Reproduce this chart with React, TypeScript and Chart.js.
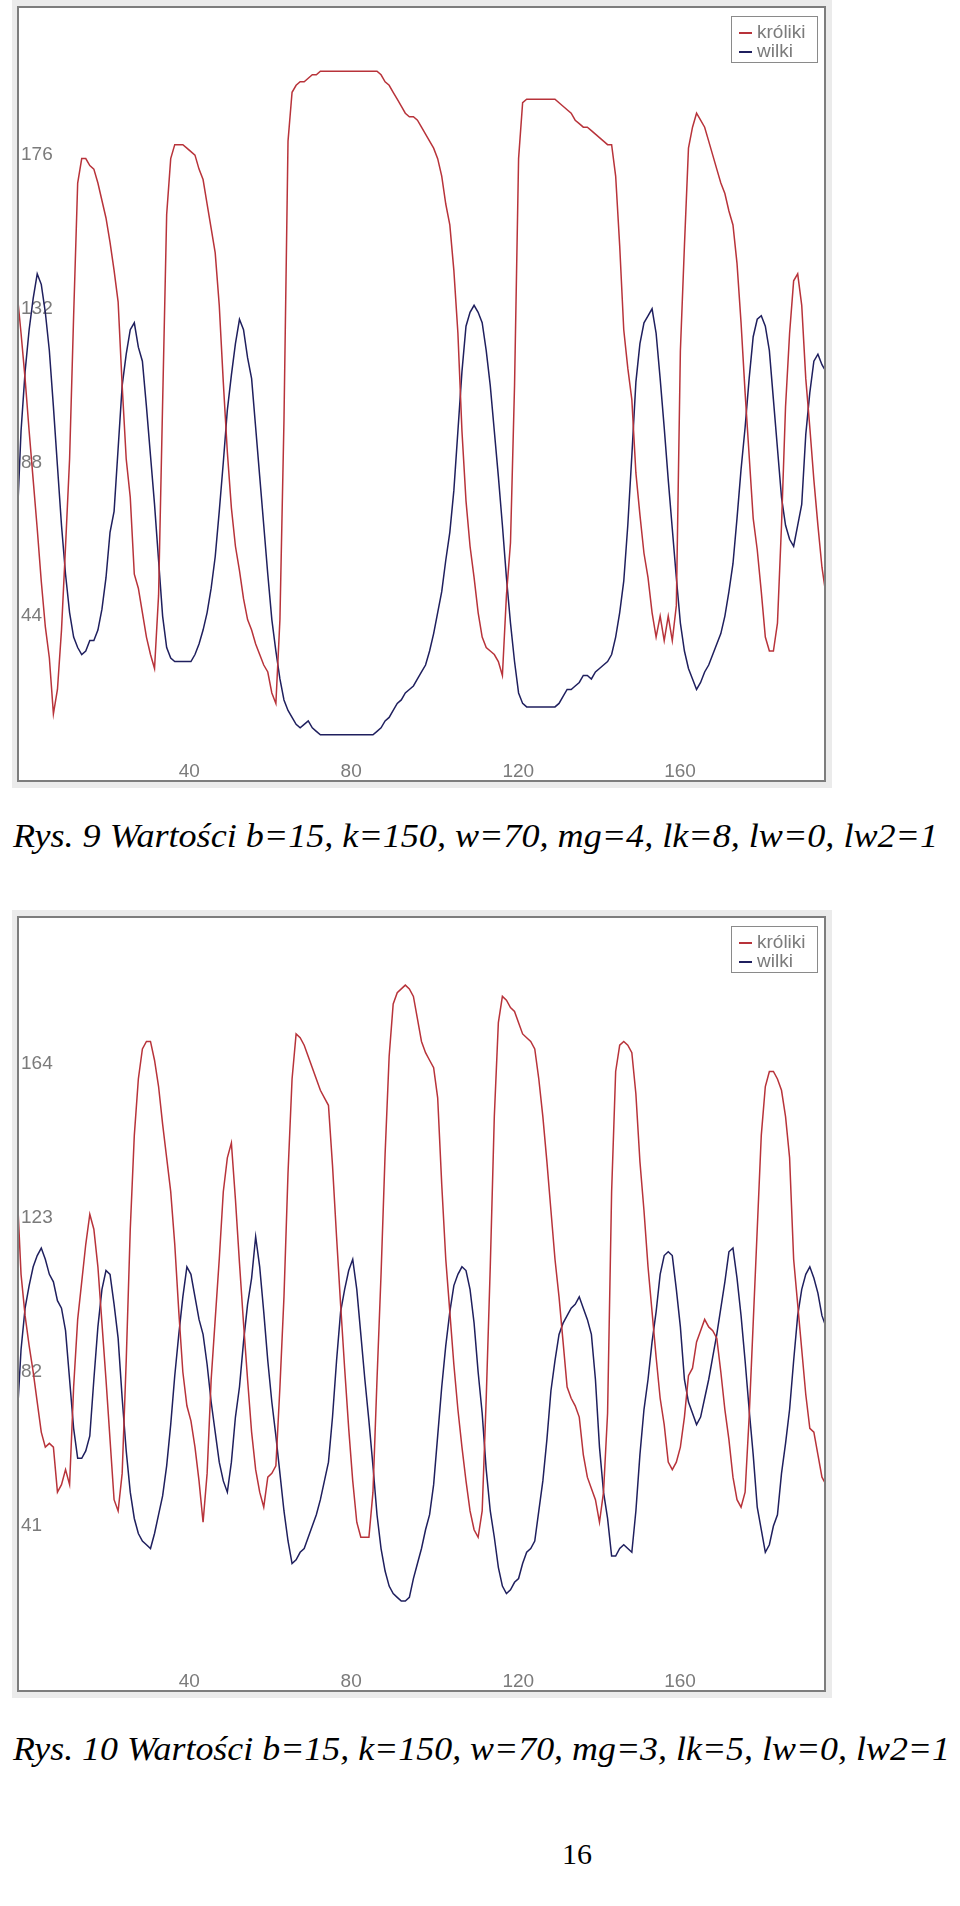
import React, { useEffect, useRef } from "react";
import { Chart, registerables } from "chart.js";

Chart.register(...registerables);

// ---------- data ----------
const STEPS: number[] = Array.from({ length: 201 }, (_, i) => i);
const X_TICKS = [40, 80, 120, 160];

const SERIES_NAMES = ["króliki", "wilki"];

// Rys. 9
const Y_TICKS_9 = [44, 88, 132, 176];
const RABBITS_9 = [
  137, 125, 112, 97, 83, 69, 54, 41, 32, 16, 23, 40, 64, 89, 130, 168, 175, 175, 173, 172,
  168, 163, 158, 151, 143, 134, 110, 89, 78, 56, 52, 45, 38, 33, 29, 50, 105, 159, 175, 179,
  179, 179, 178, 177, 176, 172, 169, 162, 155, 148, 133, 111, 91, 75, 64, 57, 49, 43, 40, 36,
  33, 30, 28, 22, 19, 43, 100, 180, 194, 196, 197, 197, 198, 199, 199, 200, 200, 200, 200, 200,
  200, 200, 200, 200, 200, 200, 200, 200, 200, 200, 199, 197, 196, 194, 192, 190, 188, 187, 187, 186,
  184, 182, 180, 178, 175, 170, 162, 156, 143, 125, 97, 77, 64, 55, 45, 38, 35, 34, 33, 31,
  27, 50, 65, 110, 175, 191, 192, 192, 192, 192, 192, 192, 192, 192, 191, 190, 189, 188, 186, 185,
  184, 184, 183, 182, 181, 180, 179, 179, 170, 150, 126, 115, 106, 85, 73, 62, 55, 45, 38, 44,
  37, 44, 37, 47, 120, 150, 178, 184, 188, 186, 184, 180, 176, 172, 168, 165, 160, 156, 145, 128,
  108, 90, 72, 63, 51, 38, 34, 34, 42, 70, 104, 125, 140, 142, 133, 112, 98, 83, 70, 58,
  50,
];
const WOLVES_9 = [
  70, 97, 114, 126, 135, 142, 139, 131, 120, 104, 87, 70, 56, 45, 38, 35, 33, 34, 37, 37,
  40, 46, 55, 68, 74, 92, 110, 119, 126, 128, 121, 117, 104, 90, 76, 60, 44, 35, 32, 31,
  31, 31, 31, 31, 33, 36, 40, 45, 52, 61, 74, 88, 103, 113, 122, 129, 126, 118, 112, 98,
  84, 70, 56, 43, 34, 26, 20, 17, 15, 13, 12, 13, 14, 12, 11, 10, 10, 10, 10, 10,
  10, 10, 10, 10, 10, 10, 10, 10, 10, 11, 12, 14, 15, 17, 19, 20, 22, 23, 24, 26,
  28, 30, 34, 39, 45, 51, 60, 68, 80, 97, 114, 127, 131, 133, 131, 128, 120, 110, 97, 84,
  70, 55, 42, 31, 22, 19, 18, 18, 18, 18, 18, 18, 18, 18, 19, 21, 23, 23, 24, 25,
  27, 27, 26, 28, 29, 30, 31, 33, 38, 45, 54, 70, 90, 111, 122, 128, 130, 132, 125, 112,
  98, 83, 69, 55, 42, 34, 29, 26, 23, 25, 28, 30, 33, 36, 39, 44, 51, 59, 72, 86,
  98, 112, 124, 129, 130, 127, 120, 106, 92, 78, 70, 66, 64, 70, 76, 96, 108, 117, 119, 116,
  114,
];

// Rys. 10
const Y_TICKS_10 = [41, 82, 123, 164];
const RABBITS_10 = [
  131, 108, 97, 89, 82, 74, 66, 62, 63, 62, 50, 52, 56, 52, 78, 96, 106, 116, 124, 120,
  110, 95, 80, 64, 48, 45, 55, 85, 120, 145, 160, 168, 170, 170, 165, 158, 148, 139, 130, 116,
  98, 82, 73, 69, 62, 53, 42, 55, 80, 96, 112, 130, 139, 143, 128, 111, 95, 80, 66, 56,
  50, 46, 54, 55, 57, 78, 102, 135, 160, 172, 171, 169, 166, 163, 160, 157, 155, 153, 137, 118,
  100, 83, 67, 53, 42, 38, 38, 38, 50, 80, 108, 140, 166, 180, 183, 184, 185, 184, 182, 176,
  170, 167, 165, 163, 155, 132, 112, 98, 84, 72, 62, 53, 45, 40, 38, 45, 75, 110, 150, 175,
  182, 181, 179, 178, 175, 172, 171, 170, 168, 160, 150, 138, 125, 112, 102, 90, 78, 75, 73, 70,
  60, 54, 51, 48, 42, 50, 71, 130, 162, 169, 170, 169, 167, 156, 138, 125, 110, 98, 86, 75,
  68, 58, 56, 58, 62, 70, 81, 83, 90, 93, 96, 94, 93, 91, 82, 72, 64, 54, 48, 46,
  50, 70, 95, 120, 145, 158, 162, 162, 160, 157, 150, 139, 112, 100, 88, 76, 67, 66, 60, 54,
  52,
];
const WOLVES_10 = [
  69, 88, 99, 105, 110, 113, 115, 112, 108, 106, 101, 99, 93, 80, 67, 59, 59, 61, 65, 80,
  94, 104, 109, 108, 100, 91, 75, 61, 50, 43, 39, 37, 36, 35, 39, 44, 49, 57, 68, 81,
  92, 102, 110, 108, 102, 96, 92, 84, 74, 66, 58, 53, 50, 58, 70, 78, 90, 100, 107, 118,
  110, 98, 85, 74, 65, 55, 45, 37, 31, 32, 34, 35, 38, 41, 44, 48, 53, 58, 70, 85,
  98, 104, 109, 112, 104, 92, 80, 69, 57, 44, 35, 29, 25, 23, 22, 21, 21, 22, 27, 31,
  35, 40, 44, 52, 65, 78, 89, 98, 105, 108, 110, 109, 104, 95, 82, 71, 56, 45, 38, 30,
  25, 23, 24, 26, 27, 31, 34, 35, 37, 45, 53, 64, 77, 85, 92, 95, 97, 99, 100, 102,
  99, 96, 92, 80, 62, 50, 43, 33, 33, 35, 36, 35, 34, 45, 60, 72, 80, 90, 98, 108,
  113, 114, 113, 104, 94, 80, 74, 71, 68, 70, 75, 80, 86, 92, 99, 106, 114, 115, 107, 97,
  85, 72, 60, 46, 40, 34, 36, 41, 44, 55, 63, 72, 85, 97, 104, 108, 110, 107, 103, 97,
  94,
];

const RABBIT_COLOR = "#b8333a";
const WOLF_COLOR = "#1f1f5e";

// ---------- overlay plugin (frame, inner tick labels, legend) ----------
const overlayPlugin = {
  id: "javaOverlay",
  beforeDatasetsDraw(chart: any, _args: any, opts: any) {
    const { ctx, chartArea: a, scales } = chart;
    ctx.save();
    ctx.font = '19px "Liberation Sans", Arial, sans-serif';
    ctx.fillStyle = "#7b7b7b";
    ctx.textBaseline = "middle";
    ctx.textAlign = "left";
    (opts.yTicks || []).forEach((v: number) => {
      ctx.fillText(String(v), a.left + 4, scales.y.getPixelForValue(v));
    });
    (opts.xTicks || []).forEach((v: number) => {
      ctx.fillText(String(v), scales.x.getPixelForValue(v), a.bottom - 10);
    });
    ctx.restore();
  },
  afterDatasetsDraw(chart: any) {
    const { ctx, chartArea: a } = chart;
    ctx.save();
    // frame
    ctx.strokeStyle = "#7d7d7d";
    ctx.lineWidth = 2;
    ctx.strokeRect(a.left + 1, a.top + 1, a.width - 2, a.height - 2);
    // legend box
    const bw = 87;
    const bh = 47;
    const bx = a.right - 8 - bw;
    const by = a.top + 10;
    ctx.fillStyle = "#ffffff";
    ctx.fillRect(bx, by, bw, bh);
    ctx.strokeStyle = "#8a8a8a";
    ctx.lineWidth = 1;
    ctx.strokeRect(bx + 0.5, by + 0.5, bw - 1, bh - 1);
    ctx.font = '19px "Liberation Sans", Arial, sans-serif';
    ctx.textBaseline = "middle";
    ctx.textAlign = "left";
    chart.data.datasets.forEach((ds: any, i: number) => {
      const cy = by + 17 + i * 19;
      ctx.strokeStyle = ds.borderColor;
      ctx.lineWidth = 2;
      ctx.beginPath();
      ctx.moveTo(bx + 8, cy);
      ctx.lineTo(bx + 21, cy);
      ctx.stroke();
      ctx.fillStyle = "#7b7b7b";
      ctx.fillText(ds.label, bx + 26, cy);
    });
    ctx.restore();
  },
};

type PanelProps = {
  top: number;
  rabbits: number[];
  wolves: number[];
  yTicks: number[];
  yMin: number;
  yMax: number;
};

function PopulationChart({ top, rabbits, wolves, yTicks, yMin, yMax }: PanelProps) {
  const ref = useRef<HTMLCanvasElement | null>(null);

  useEffect(() => {
    if (!ref.current) return;
    const chart = new Chart(ref.current, {
      type: "line",
      data: {
        datasets: [
          {
            label: SERIES_NAMES[0],
            data: rabbits.map((v, i) => ({ x: STEPS[i], y: v })),
            borderColor: RABBIT_COLOR,
            borderWidth: 1.5,
            pointRadius: 0,
            tension: 0,
            fill: false,
          },
          {
            label: SERIES_NAMES[1],
            data: wolves.map((v, i) => ({ x: STEPS[i], y: v })),
            borderColor: WOLF_COLOR,
            borderWidth: 1.5,
            pointRadius: 0,
            tension: 0,
            fill: false,
          },
        ],
      },
      options: {
        animation: false,
        responsive: true,
        maintainAspectRatio: false,
        devicePixelRatio: 1,
        layout: { padding: 0 },
        scales: {
          x: { type: "linear", min: 0, max: 200, display: false },
          y: { type: "linear", min: yMin, max: yMax, display: false },
        },
        plugins: {
          legend: { display: false },
          tooltip: { enabled: false },
          javaOverlay: { yTicks, xTicks: X_TICKS },
        } as any,
        events: [],
      },
      plugins: [overlayPlugin as any],
    });
    return () => chart.destroy();
  }, [rabbits, wolves, yTicks, yMin, yMax]);

  return (
    <>
      <div
        style={{
          position: "absolute",
          left: 12,
          top: top - 6,
          width: 820,
          height: 788,
          background: "#ebebeb",
        }}
      />
      <div
        style={{
          position: "absolute",
          left: 17,
          top: top,
          width: 809,
          height: 776,
          background: "#ffffff",
        }}
      >
        <canvas ref={ref} />
      </div>
    </>
  );
}

export default function App() {
  useEffect(() => {
    document.body.style.margin = "0";
  }, []);

  const serif = '"Liberation Serif", "DejaVu Serif", serif';

  return (
    <div style={{ position: "relative", width: 960, height: 1906, background: "#fff", overflow: "hidden" }}>
      <svg width={960} height={1906} style={{ position: "absolute", left: 0, top: 0 }}>
        <text
          x={13}
          y={847}
          fontFamily={serif}
          fontStyle="italic"
          fontSize={33}
          textLength={925}
          lengthAdjust="spacingAndGlyphs"
          fill="#000"
        >
          Rys. 9 Wartości b=15, k=150, w=70, mg=4, lk=8, lw=0, lw2=1
        </text>
        <text
          x={13}
          y={1760}
          fontFamily={serif}
          fontStyle="italic"
          fontSize={33}
          textLength={937}
          lengthAdjust="spacingAndGlyphs"
          fill="#000"
        >
          Rys. 10 Wartości b=15, k=150, w=70, mg=3, lk=5, lw=0, lw2=1
        </text>
        <text x={577} y={1864} fontFamily={serif} fontSize={30} textAnchor="middle" fill="#000">
          16
        </text>
      </svg>
      <PopulationChart
        top={6}
        rabbits={RABBITS_9}
        wolves={WOLVES_9}
        yTicks={Y_TICKS_9}
        yMin={-3.5}
        yMax={218.7}
      />
      <PopulationChart
        top={916}
        rabbits={RABBITS_10}
        wolves={WOLVES_10}
        yTicks={Y_TICKS_10}
        yMin={-3.2}
        yMax={203.4}
      />
    </div>
  );
}
